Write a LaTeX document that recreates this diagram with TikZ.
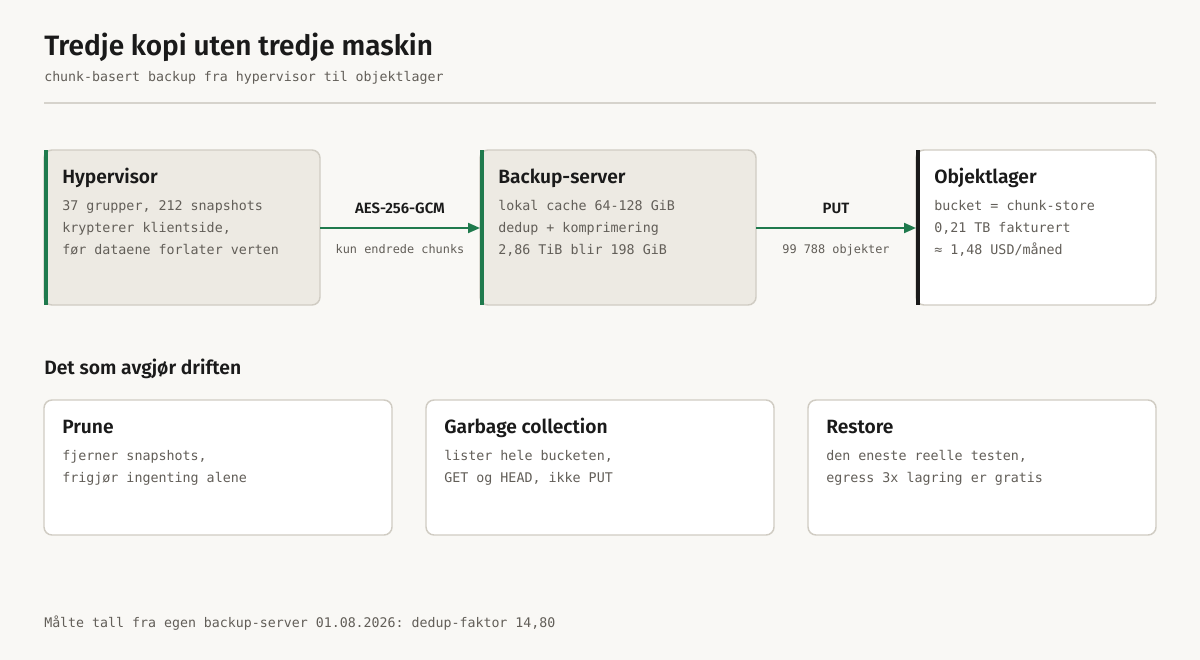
\documentclass[tikz,border=0pt]{standalone}
\usepackage{fontspec}
\setmainfont{Fira Sans}[BoldFont={Fira Sans SemiBold}]
\setmonofont{DejaVu Sans Mono}
\usetikzlibrary{arrows.meta}
\definecolor{bg}{HTML}{F9F8F5}
\definecolor{ink}{HTML}{1A1A1A}
\definecolor{muted}{HTML}{625E58}
\definecolor{rulec}{HTML}{D6D3CC}
\definecolor{boxline}{HTML}{D0CCC3}
\definecolor{warm}{HTML}{EDEAE3}
\definecolor{grn}{HTML}{1F7A4D}
\tikzset{
  px/.style={x=0.75pt,y=-0.75pt},
  card/.style={draw=boxline,line width=1.1pt,rounded corners=6pt},
  warmcard/.style={card,fill=warm},
  whitecard/.style={card,fill=white},
  bar/.style={fill=#1,draw=none},
  ttl/.style={anchor=base west,inner sep=0pt,text=ink,font=\bfseries\fontsize{14.4}{16}\selectfont},
  body/.style={anchor=base west,inner sep=0pt,text=muted,font=\ttfamily\fontsize{10}{12}\selectfont},
  flow/.style={draw=grn,line width=1.5pt,-{Triangle[length=9pt,width=7.5pt]}},
  albl/.style={anchor=base,inner sep=0pt,text=ink,font=\bfseries\fontsize{11.2}{13}\selectfont},
  asub/.style={anchor=base,inner sep=0pt,text=muted,font=\ttfamily\fontsize{8.9}{10}\selectfont},
}
\begin{document}
\begin{tikzpicture}[px]
\fill[bg] (0,0) rectangle (1200,660);
\useasboundingbox (0,0) rectangle (1200,660);
% header
\node[anchor=base west,inner sep=0pt,text=ink,font=\bfseries\fontsize{21}{24}\selectfont] (title) at (44,56) {Tredje kopi uten tredje maskin};
\node[anchor=base west,inner sep=0pt,text=muted,font=\ttfamily\fontsize{9.95}{12}\selectfont] (sub) at (44,82) {chunk-basert backup fra hypervisor til objektlager};
\draw[rulec,line width=1.5pt] (44,103) -- (1156,103);
% pipeline boxes
\draw[warmcard] (44,150) rectangle (320,305);
\fill[bar=grn] (44,150) rectangle (48,305);
\coordinate (hypE) at (320,228);
\node[ttl] (hypT) at (62,183) {Hypervisor};
\node[body] (hypB1) at (62,210) {37 grupper, 212 snapshots};
\node[body] (hypB2) at (62,232) {krypterer klientside,};
\node[body] (hypB3) at (62,254) {før dataene forlater verten};

\draw[warmcard] (480,150) rectangle (756,305);
\fill[bar=grn] (480,150) rectangle (484,305);
\coordinate (bkW) at (480,228);
\coordinate (bkE) at (756,228);
\node[ttl] (bkT) at (498,183) {Backup-server};
\node[body] (bkB1) at (498,210) {lokal cache 64-128 GiB};
\node[body] (bkB2) at (498,232) {dedup + komprimering};
\node[body] (bkB3) at (498,254) {2,86 TiB blir 198 GiB};

\draw[whitecard] (916,150) rectangle (1156,305);
\fill[bar=ink] (916,150) rectangle (920,305);
\coordinate (objW) at (916,228);
\node[ttl] (objT) at (934,183) {Objektlager};
\node[body] (objB1) at (934,210) {bucket = chunk-store};
\node[body] (objB2) at (934,232) {0,21 TB fakturert};
\node[body] (objB3) at (934,254) {≈ 1,48 USD/måned};

% arrows
\draw[flow] (hypE) -- (bkW);
\node[albl] (a1) at (400,213) {AES-256-GCM};
\node[asub] (a1s) at (400,253) {kun endrede chunks};
\draw[flow] (bkE) -- (objW);
\node[albl] (a2) at (836,213) {PUT};
\node[asub] (a2s) at (836,253) {99 788 objekter};

% section
\node[anchor=base west,inner sep=0pt,text=ink,font=\bfseries\fontsize{14.5}{17}\selectfont] (sec) at (44,374) {Det som avgjør driften};

\draw[whitecard] (44,400) rectangle (392,535);
\node[ttl] (prT) at (62,433) {Prune};
\node[body] (prB1) at (62,460) {fjerner snapshots,};
\node[body] (prB2) at (62,482) {frigjør ingenting alene};

\draw[whitecard] (426,400) rectangle (774,535);
\node[ttl] (gcT) at (444,433) {Garbage collection};
\node[body] (gcB1) at (444,460) {lister hele bucketen,};
\node[body] (gcB2) at (444,482) {GET og HEAD, ikke PUT};

\draw[whitecard] (808,400) rectangle (1156,535);
\node[ttl] (rsT) at (826,433) {Restore};
\node[body] (rsB1) at (826,460) {den eneste reelle testen,};
\node[body] (rsB2) at (826,482) {egress 3x lagring er gratis};

% footer
\node[anchor=base west,inner sep=0pt,text=muted,font=\ttfamily\fontsize{9.95}{12}\selectfont] (foot) at (44,627) {Målte tall fra egen backup-server 01.08.2026: dedup-faktor 14,80};
\end{tikzpicture}
\end{document}
